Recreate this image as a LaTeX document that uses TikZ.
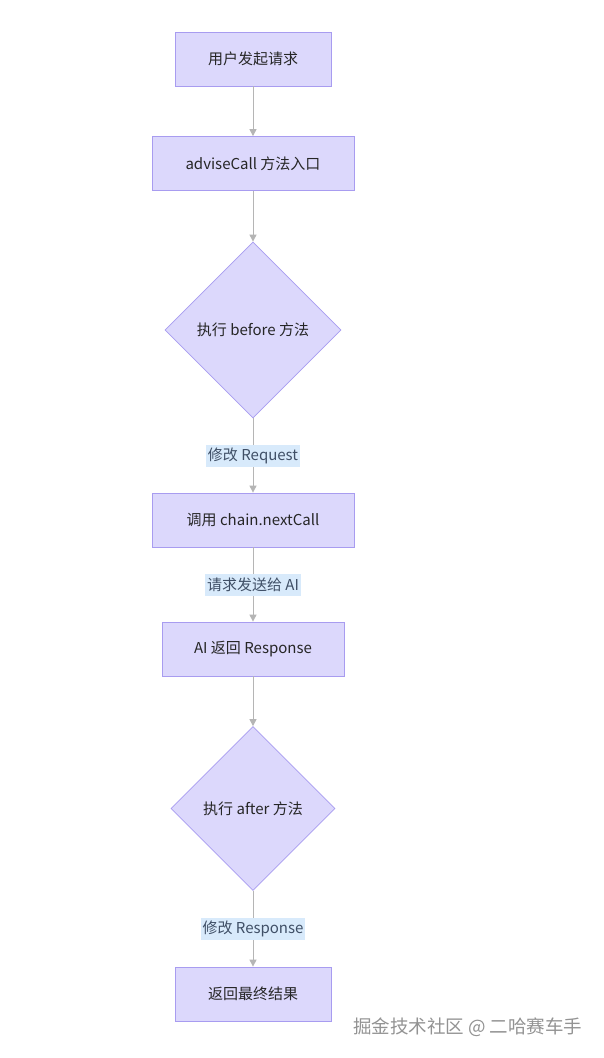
\documentclass[tikz,border=0pt]{standalone}
\usepackage{fontspec}
\setmainfont{Noto Sans CJK SC}
\usetikzlibrary{shapes.geometric,arrows.meta}
\definecolor{nfill}{HTML}{DCD8FC}
\definecolor{nline}{HTML}{A89CF0}
\definecolor{lbg}{HTML}{D8EAFB}
\definecolor{edge}{HTML}{B5B5B5}
\definecolor{ltext}{HTML}{3F4F66}
\begin{document}
\begin{tikzpicture}[x=1pt,y=-1pt,
  box/.style={draw=nline,fill=nfill,line width=0.8pt,minimum height=54pt,font=\fontsize{15}{17}\selectfont,text=black!85,inner sep=0pt},
  dia/.style={draw=nline,fill=nfill,line width=0.8pt,diamond,inner sep=0pt,font=\fontsize{15}{17}\selectfont,text=black!85},
  arr/.style={draw=edge,line width=1pt,-{Triangle[length=7pt,width=7pt]}},
  elab/.style={fill=lbg,text=ltext,font=\fontsize{15}{17}\selectfont,inner sep=2pt,minimum height=22pt}]
\useasboundingbox (0,0) rectangle (604,1058);
\fill[white] (0,0) rectangle (604,1058);
\node[box,minimum width=156pt] (n1) at (253,59) {用户发起请求};
\node[box,minimum width=202pt] (n2) at (253,163.5) {adviseCall 方法入口};
\node[dia,minimum width=176pt,minimum height=176pt] (n3) at (253,330) {执行 before 方法};
\node[box,minimum width=202pt] (n4) at (253,520) {调用 chain.nextCall};
\node[box,minimum width=182pt] (n5) at (253,649) {AI 返回 Response};
\node[dia,minimum width=164pt,minimum height=164pt] (n6) at (253,808.5) {执行 after 方法};
\node[box,minimum width=156pt] (n7) at (253,994) {返回最终结果};
\draw[arr] (n1) -- (n2);
\draw[arr] (n2) -- (n3);
\draw[arr] (n3) -- node[elab] (l1) {修改 Request} (n4);
\draw[arr] (n4) -- node[elab] (l2) {请求发送给 AI} (n5);
\draw[arr] (n5) -- (n6);
\draw[arr] (n6) -- node[elab] (l3) {修改 Response} (n7);
\node[text=gray!85,font=\fontsize{18.5}{20}\selectfont,anchor=east] (wm) at (586,1027) {掘金技术社区 @ 二哈赛车手};
\end{tikzpicture}
\end{document}
